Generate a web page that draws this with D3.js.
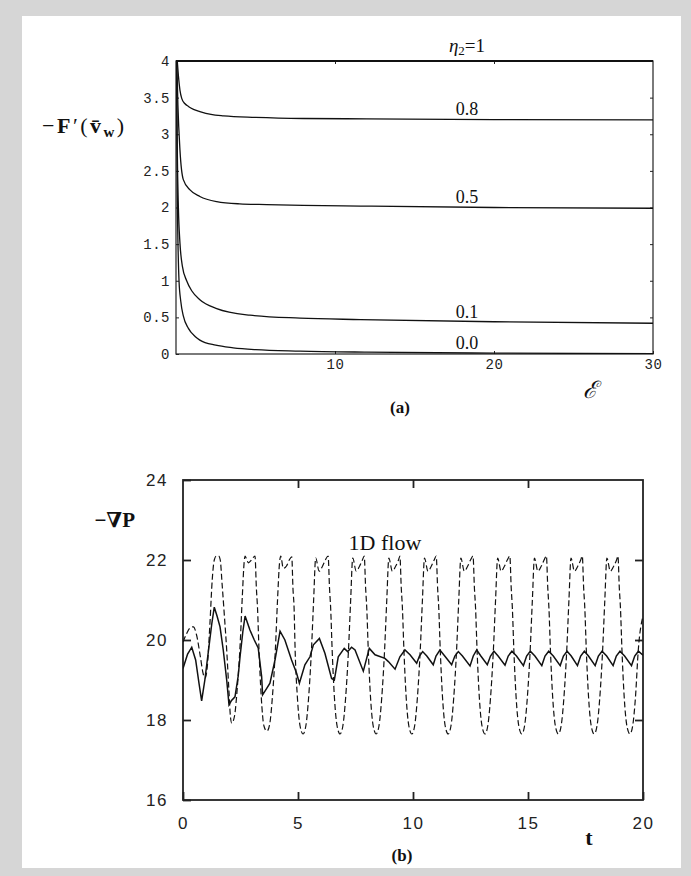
<!DOCTYPE html>
<html>
<head>
<meta charset="utf-8">
<script src="https://cdnjs.cloudflare.com/ajax/libs/d3/7.8.5/d3.min.js"></script>
<style>
body { margin: 0; background: #d6d6d6; }
svg { display: block; }
.tickA text { font-family: "Liberation Mono", monospace; font-size: 14px; fill: #222; letter-spacing: 0.5px; }
.tickB text { font-family: "Liberation Sans", sans-serif; font-size: 17px; fill: #222; letter-spacing: 1.5px; }
.serif { font-family: "Liberation Serif", "DejaVu Serif", serif; fill: #111; }
</style>
</head>
<body>
<svg id="chart" width="691" height="876"></svg>
<script>
// ---- dati pannello (a): -F'(v_w) in funzione di E, per ogni eta2
const eps10 = [0, 30];
const f10 = [4, 4];
const eps08 = [0.08, 0.15, 0.25, 0.36, 0.55, 0.78, 1.1, 1.5, 2.2, 3, 5, 8, 12, 20, 30];
const f08 = [4.0, 3.8, 3.6, 3.49, 3.42, 3.38, 3.34, 3.31, 3.27, 3.25, 3.23, 3.215, 3.21, 3.2, 3.195];
const eps05 = [0.05, 0.12, 0.25, 0.46, 0.88, 1.5, 2.56, 4, 5.7, 8, 11.6, 20, 30];
const f05 = [4.0, 3.4, 2.78, 2.38, 2.24, 2.15, 2.08, 2.05, 2.04, 2.03, 2.02, 2.0, 1.99];
const eps01 = [0.03, 0.08, 0.15, 0.25, 0.4, 0.67, 1.0, 1.5, 2.56, 4.65, 7.8, 11.6, 20, 30];
const f01 = [4.0, 2.8, 2.0, 1.51, 1.2, 1.0, 0.86, 0.74, 0.62, 0.53, 0.49, 0.47, 0.44, 0.42];
const eps00 = [0.03, 0.08, 0.19, 0.3, 0.46, 0.78, 1.2, 1.5, 2.5, 3.6, 5, 7.8, 12, 20, 30];
const f00 = [4.0, 2.2, 1.0, 0.72, 0.52, 0.35, 0.24, 0.19, 0.12, 0.085, 0.06, 0.04, 0.025, 0.012, 0.005];
const curveLabelsA = ["1", "0.8", "0.5", "0.1", "0.0"];
const yTicksA = [0, 0.5, 1, 1.5, 2, 2.5, 3, 3.5, 4];
const xTicksA = [10, 20, 30];

// ---- dati pannello (b): -grad P in funzione di t
const solidSeries = [
  [0, 19.29], [0.2, 19.65], [0.38, 19.82], [0.55, 19.5], [0.7, 18.9], [0.81, 18.48], [0.95, 19.0],
  [1.1, 19.7], [1.25, 20.4], [1.36, 20.82], [1.48, 20.6], [1.61, 20.33], [1.75, 19.75], [1.9, 19.0],
  [2.0, 18.38], [2.1, 18.48], [2.26, 18.58], [2.4, 19.1], [2.48, 19.58], [2.6, 20.2], [2.7, 20.6],
  [2.91, 20.25], [3.1, 20.0], [3.27, 19.8], [3.42, 19.08], [3.46, 18.63], [3.64, 18.79], [3.78, 18.92],
  [4.0, 19.5], [4.22, 20.22], [4.43, 20.0], [4.72, 19.5], [4.94, 19.17], [5.06, 18.92], [5.3, 19.38],
  [5.52, 19.58], [5.67, 19.88], [5.93, 20.04], [6.17, 19.67], [6.46, 19.04], [6.58, 19.0], [6.75, 19.58],
  [7.01, 19.79], [7.16, 19.71], [7.33, 19.82], [7.48, 19.75], [7.84, 19.22], [8.1, 19.79], [8.35, 19.63],
  [8.78, 19.54], [8.93, 19.46], [9.22, 19.27], [9.43, 19.58], [9.65, 19.75], [9.87, 19.63], [10.16, 19.42],
  [10.28, 19.6], [10.42, 19.71], [10.6, 19.6], [10.88, 19.38], [11.0, 19.6], [11.17, 19.75], [11.38, 19.6],
  [11.68, 19.38], [11.82, 19.6], [11.97, 19.71], [12.15, 19.6], [12.48, 19.35], [12.62, 19.6], [12.77, 19.75],
  [12.95, 19.6], [13.23, 19.38], [13.37, 19.6], [13.52, 19.72], [13.7, 19.6], [14.0, 19.37], [14.14, 19.6],
  [14.3, 19.72], [14.5, 19.6], [14.8, 19.36], [14.94, 19.6], [15.1, 19.72], [15.3, 19.6], [15.6, 19.36],
  [15.74, 19.6], [15.9, 19.72], [16.1, 19.6], [16.4, 19.36], [16.54, 19.6], [16.7, 19.72], [16.88, 19.6],
  [17.15, 19.36], [17.29, 19.6], [17.45, 19.72], [17.63, 19.6], [17.92, 19.36], [18.06, 19.6], [18.22, 19.72],
  [18.42, 19.6], [18.7, 19.36], [18.84, 19.6], [19.0, 19.72], [19.2, 19.6], [19.5, 19.36], [19.64, 19.6],
  [19.8, 19.72], [20.0, 19.62]
];
const dashedSeries = [
  [0, 19.95], [0.15, 20.15], [0.3, 20.3], [0.45, 20.33], [0.6, 20.1], [0.75, 19.6], [0.88, 19.15], [0.96, 19.05],
  [1.05, 19.3], [1.17, 20.4], [1.27, 21.5], [1.36, 22.0], [1.45, 22.1], [1.55, 22.1], [1.62, 22.0], [1.7, 21.4],
  [1.8, 20.6], [1.9, 19.75], [2.0, 18.7], [2.06, 18.1], [2.12, 17.92],
  [2.24, 18.1], [2.36, 18.8], [2.485, 19.9], [2.58, 21.1], [2.66, 21.95], [2.7, 22.1], [2.78, 22.0], [2.84, 21.93],
  [2.98, 22.0], [3.13, 22.1], [3.19, 21.3], [3.24, 20.8], [3.305, 19.75], [3.4, 18.6], [3.52, 17.85], [3.65, 17.72],
  [3.77, 17.9], [3.89, 18.6], [4.015, 19.75], [4.11, 21.0], [4.2, 21.95], [4.25, 22.1], [4.36, 21.79], [4.5, 21.85],
  [4.62, 22.0], [4.73, 22.08], [4.78, 21.3], [4.83, 20.8], [4.875, 19.75], [4.97, 18.6], [5.09, 17.85], [5.22, 17.65],
  [5.34, 17.85], [5.46, 18.55], [5.585, 19.75], [5.68, 21.0], [5.77, 22.05], [5.92, 21.72], [6.07, 21.85], [6.19, 22.0],
  [6.31, 22.1], [6.37, 21.3], [6.42, 20.8], [6.485, 19.75], [6.58, 18.6], [6.7, 17.85], [6.83, 17.65],
  [6.95, 17.85], [7.07, 18.55], [7.195, 19.75], [7.29, 21.0], [7.38, 22.05], [7.53, 21.72], [7.68, 21.85], [7.8, 22.0],
  [7.88, 22.1], [7.94, 21.3], [7.99, 20.8], [8.055, 19.75], [8.15, 18.6], [8.27, 17.85], [8.4, 17.65],
  [8.52, 17.85], [8.64, 18.55], [8.765, 19.75], [8.86, 21.0], [8.95, 22.05], [9.1, 21.72], [9.25, 21.85], [9.37, 22.0],
  [9.43, 22.1], [9.49, 21.3], [9.54, 20.8], [9.605, 19.75], [9.7, 18.6], [9.82, 17.85], [9.95, 17.65],
  [10.07, 17.85], [10.19, 18.55], [10.315, 19.75], [10.41, 21.0], [10.5, 22.05], [10.65, 21.72], [10.8, 21.85], [10.92, 22.0],
  [11.01, 22.1], [11.07, 21.3], [11.12, 20.8], [11.185, 19.75], [11.28, 18.6], [11.4, 17.85], [11.53, 17.65],
  [11.65, 17.85], [11.77, 18.55], [11.895, 19.75], [11.99, 21.0], [12.08, 22.05], [12.23, 21.72], [12.38, 21.85], [12.5, 22.0],
  [12.61, 22.1], [12.67, 21.3], [12.72, 20.8], [12.785, 19.75], [12.88, 18.6], [13.0, 17.85], [13.13, 17.65],
  [13.25, 17.85], [13.37, 18.55], [13.495, 19.75], [13.59, 21.0], [13.68, 22.05], [13.83, 21.72], [13.98, 21.85], [14.1, 22.0],
  [14.21, 22.1], [14.27, 21.3], [14.32, 20.8], [14.385, 19.75], [14.48, 18.6], [14.6, 17.85], [14.73, 17.65],
  [14.85, 17.85], [14.97, 18.55], [15.095, 19.75], [15.19, 21.0], [15.28, 22.05], [15.43, 21.72], [15.58, 21.85], [15.7, 22.0],
  [15.8, 22.1], [15.86, 21.3], [15.91, 20.8], [15.975, 19.75], [16.07, 18.6], [16.19, 17.85], [16.32, 17.65],
  [16.44, 17.85], [16.56, 18.55], [16.685, 19.75], [16.78, 21.0], [16.87, 22.05], [17.02, 21.72], [17.17, 21.85], [17.29, 22.0],
  [17.36, 22.1], [17.42, 21.3], [17.47, 20.8], [17.535, 19.75], [17.63, 18.6], [17.75, 17.85], [17.88, 17.65],
  [18.0, 17.85], [18.12, 18.55], [18.245, 19.75], [18.34, 21.0], [18.43, 22.05], [18.58, 21.72], [18.73, 21.85], [18.85, 22.0],
  [18.91, 22.1], [18.97, 21.3], [19.02, 20.8], [19.085, 19.75], [19.18, 18.6], [19.3, 17.85], [19.43, 17.65],
  [19.55, 17.85], [19.67, 18.55], [19.795, 19.75], [20.0, 20.6]
];
const yTicksB = [16, 18, 20, 22, 24];
const xTicksB = [0, 5, 10, 15, 20];

const svg = d3.select("#chart");

// pagina bianca sopra il bordo grigio
svg.append("rect").attr("x", 22).attr("y", 16).attr("width", 659).attr("height", 852).attr("fill", "#fff");

// ================= pannello (a)
const xA = d3.scaleLinear().domain([0, 30]).range([176, 653]);
const yA = d3.scaleLinear().domain([0, 4]).range([354, 61]);

svg.append("clipPath").attr("id", "clipA").append("rect")
    .attr("x", xA(0)).attr("y", yA(4) - 2)
    .attr("width", xA(30) - xA(0)).attr("height", yA(0) - yA(4) + 2);

const gA = svg.append("g").attr("color", "#222");

gA.append("g").attr("class", "tickA")
    .attr("transform", "translate(" + xA(0) + ",0)")
    .call(d3.axisLeft(yA).tickValues(yTicksA).tickSize(-3).tickPadding(6).tickFormat(d3.format("")))
    .call(g => g.select(".domain").remove());
gA.append("g").attr("class", "tickA")
    .attr("transform", "translate(0," + yA(0) + ")")
    .call(d3.axisBottom(xA).tickValues(xTicksA).tickSize(-3).tickPadding(5).tickFormat(d3.format("")))
    .call(g => g.select(".domain").remove());
gA.append("g")
    .attr("transform", "translate(0," + yA(4) + ")")
    .call(d3.axisTop(xA).tickValues([10, 20]).tickSize(-3).tickFormat(""))
    .call(g => g.select(".domain").remove());
gA.append("g")
    .attr("transform", "translate(" + xA(30) + ",0)")
    .call(d3.axisRight(yA).tickValues(yTicksA.slice(1, -1)).tickSize(-3).tickFormat(""))
    .call(g => g.select(".domain").remove());

gA.append("rect")
    .attr("x", xA(0)).attr("y", yA(4))
    .attr("width", xA(30) - xA(0)).attr("height", yA(0) - yA(4))
    .attr("fill", "none").attr("stroke", "#222").attr("stroke-width", 1.2);

const curvesA = [
    { label: curveLabelsA[0], pts: d3.zip(eps10, f10) },
    { label: curveLabelsA[1], pts: d3.zip(eps08, f08) },
    { label: curveLabelsA[2], pts: d3.zip(eps05, f05) },
    { label: curveLabelsA[3], pts: d3.zip(eps01, f01) },
    { label: curveLabelsA[4], pts: d3.zip(eps00, f00) }
];

const lineA = d3.line()
    .x(d => xA(d[0]))
    .y(d => yA(d[1]))
    .curve(d3.curveMonotoneX);

gA.append("g").attr("clip-path", "url(#clipA)")
    .selectAll("path")
    .data(curvesA)
    .enter()
    .append("path")
    .attr("d", d => lineA(d.pts))
    .attr("fill", "none")
    .attr("stroke", "#111")
    .attr("stroke-width", (d, i) => i === 0 ? 2.2 : 1.3);

// etichette delle curve
const labX = xA(18.3);
curvesA.forEach(function (c, i) {
    const last = c.pts[c.pts.length - 1][1];
    const t = svg.append("text").attr("class", "serif")
        .attr("x", labX).attr("text-anchor", "middle")
        .attr("font-size", 18);
    if (i === 0) {
        t.attr("y", yA(last) - 9).attr("font-size", 19);
        t.append("tspan").attr("font-style", "italic").text("η");
        t.append("tspan").attr("font-size", 13).attr("dy", 3).text("2");
        t.append("tspan").attr("dy", -3).text("=" + c.label);
    } else {
        t.attr("y", yA(last) - 5).text(c.label);
    }
});

// titolo asse y (a)
const labA = svg.append("text").attr("class", "serif")
    .attr("x", 42).attr("y", 133)
    .attr("font-size", 22).attr("letter-spacing", 2.5);
labA.append("tspan").text("−");
labA.append("tspan").attr("font-weight", "bold").text("F");
labA.append("tspan").text("′(");
labA.append("tspan").attr("font-weight", "bold").text("v\u0304");
labA.append("tspan").attr("font-weight", "bold").attr("font-size", 15).attr("dy", 4).text("w");
labA.append("tspan").attr("dy", -4).text(")");

svg.append("text").attr("class", "serif")
    .attr("x", 590).attr("y", 398).attr("text-anchor", "middle")
    .attr("font-size", 24).attr("font-style", "italic")
    .text("ℰ");

svg.append("text").attr("class", "serif")
    .attr("x", 400).attr("y", 413).attr("text-anchor", "middle")
    .attr("font-size", 17).attr("font-weight", "bold")
    .text("(a)");

// ================= pannello (b)
const xB = d3.scaleLinear().domain([0, 20]).range([183, 643]);
const yB = d3.scaleLinear().domain([16, 24]).range([800, 480]);

svg.append("clipPath").attr("id", "clipB").append("rect")
    .attr("x", xB(0)).attr("y", yB(24))
    .attr("width", xB(20) - xB(0)).attr("height", yB(16) - yB(24));

const gB = svg.append("g").attr("color", "#222");

gB.append("g").attr("class", "tickB")
    .attr("transform", "translate(" + xB(0) + ",0)")
    .call(d3.axisLeft(yB).tickValues(yTicksB).tickSize(-8).tickPadding(15).tickFormat(d3.format("")))
    .call(g => g.select(".domain").remove());
gB.append("g").attr("class", "tickB")
    .attr("transform", "translate(0," + yB(16) + ")")
    .call(d3.axisBottom(xB).tickValues(xTicksB).tickSize(-8).tickPadding(17).tickFormat(d3.format("")))
    .call(g => g.select(".domain").remove());
gB.append("g")
    .attr("transform", "translate(0," + yB(24) + ")")
    .call(d3.axisTop(xB).tickValues(xTicksB.slice(1, -1)).tickSize(-8).tickFormat(""))
    .call(g => g.select(".domain").remove());
gB.append("g")
    .attr("transform", "translate(" + xB(20) + ",0)")
    .call(d3.axisRight(yB).tickValues(yTicksB.slice(1, -1)).tickSize(-8).tickFormat(""))
    .call(g => g.select(".domain").remove());
gB.selectAll(".tick line").attr("stroke-width", 1.8);

gB.append("rect")
    .attr("x", xB(0)).attr("y", yB(24))
    .attr("width", xB(20) - xB(0)).attr("height", yB(16) - yB(24))
    .attr("fill", "none").attr("stroke", "#222").attr("stroke-width", 1.8);

const lineB = d3.line()
    .x(d => xB(d[0]))
    .y(d => yB(d[1]));

const plotB = gB.append("g").attr("clip-path", "url(#clipB)");
plotB.append("path")
    .attr("d", lineB.curve(d3.curveMonotoneX)(dashedSeries))
    .attr("fill", "none").attr("stroke", "#111")
    .attr("stroke-width", 1.2).attr("stroke-dasharray", "6,3");
plotB.append("path")
    .attr("d", lineB.curve(d3.curveLinear)(solidSeries))
    .attr("fill", "none").attr("stroke", "#111")
    .attr("stroke-width", 1.5);

svg.append("text").attr("class", "serif")
    .attr("x", xB(7.2)).attr("y", yB(22.25))
    .attr("font-size", 22)
    .text("1D flow");

svg.append("text").attr("class", "serif")
    .attr("x", 135).attr("y", 527).attr("text-anchor", "end")
    .attr("font-size", 21).attr("font-weight", "bold")
    .text("−∇P");

svg.append("text").attr("class", "serif")
    .attr("x", 589).attr("y", 845).attr("text-anchor", "middle")
    .attr("font-size", 22).attr("font-weight", "bold")
    .text("t");

svg.append("text").attr("class", "serif")
    .attr("x", 402).attr("y", 861).attr("text-anchor", "middle")
    .attr("font-size", 17).attr("font-weight", "bold")
    .text("(b)");
</script>
</body>
</html>
